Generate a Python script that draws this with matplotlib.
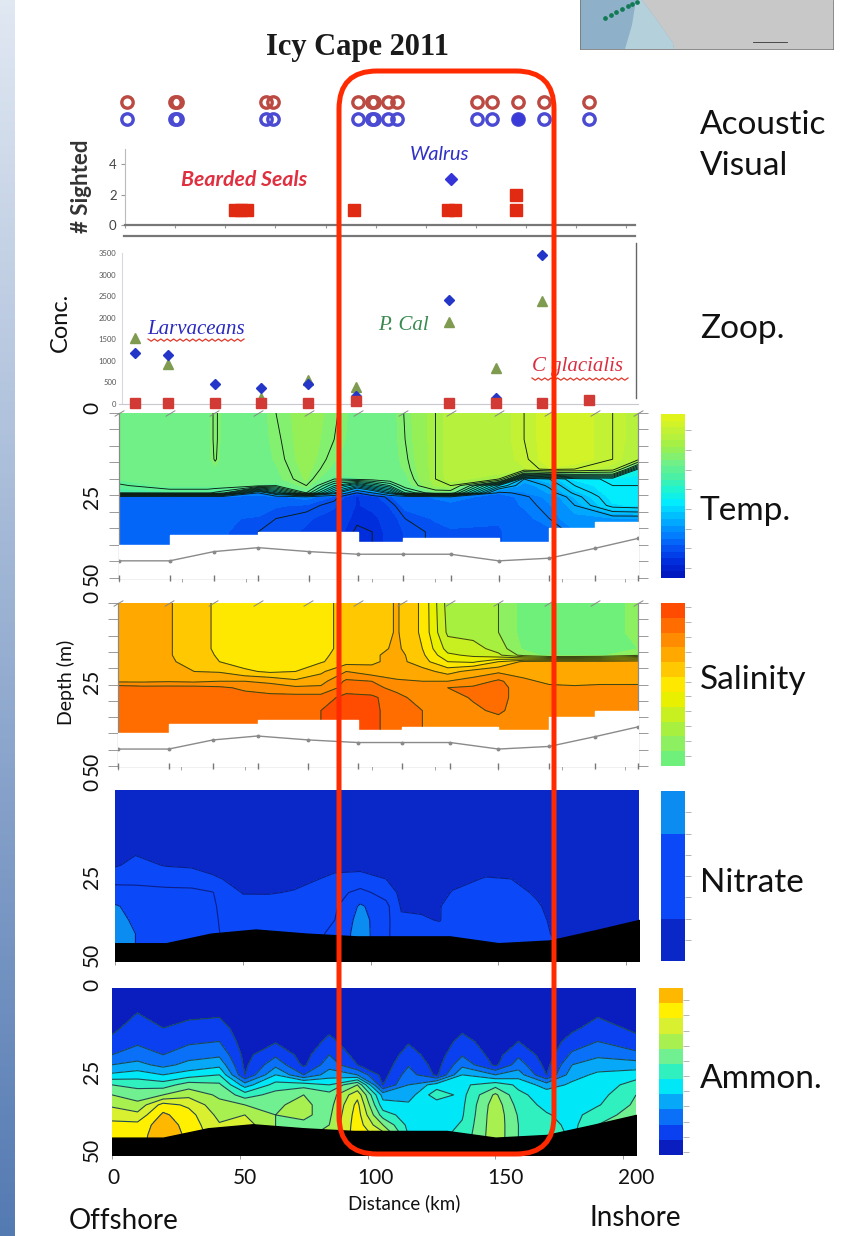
import numpy as np
import matplotlib
matplotlib.use("Agg")
import matplotlib.pyplot as plt
from matplotlib.colors import ListedColormap, LinearSegmentedColormap
from matplotlib.patches import FancyBboxPatch, Polygon, Rectangle

W, H = 844, 1236

# ---------- sightings ----------
acoustic_km = [3.2, 22.1, 22.9, 58.1, 60.8, 94.4, 99.9, 100.7, 106.2, 109.8, 141.4, 147.3, 157.6, 167.9, 185.6]
visual_km = acoustic_km
visual_filled_km = [157.6]
seal_km = [45.8, 48.2, 50.6, 93.0, 130.0, 132.7, 156.7, 156.7]
seal_count = [1, 1, 1, 1, 1, 1, 1, 2]
walrus_km = [131.0]
walrus_count = [3]

# ---------- zooplankton ----------
zoop_km = [6.3, 19.4, 37.9, 56.0, 74.6, 93.6, 130.3, 148.9, 167.0, 185.6]
larvaceans = [1190, 1130, 460, 370, 470, 180, 2420, 130, 3460, np.nan]
p_cal = [1540, 920, np.nan, 130, 560, 400, 1900, 830, 2390, np.nan]
c_glacialis = [20, 15, 25, 15, 25, 80, 15, 20, 30, 90]

# ---------- bottom ----------
station_km = [0, 20, 37.5, 55, 75, 94.5, 112, 131, 150, 170, 188, 205]
bottom_depth = [44.8, 44.8, 42, 40.8, 42, 42.8, 42.8, 42.8, 44.8, 44, 41, 38]
step_km = [0, 20, 55, 94.5, 112, 150, 170, 188, 205]
step_depth = [40, 37, 36, 39, 38, 39, 35, 33, 33]

# ---------- temperature (by column) ----------
temp_km = [0, 20, 35, 38, 41, 55, 62, 74, 85, 94, 100, 107, 113, 125, 131, 150, 160, 170, 180, 195, 205]
temp_depth = [0, 8, 14, 17, 20, 22, 24.2, 25.4, 28, 32, 36, 50]
temp_cols = [
    [8.5, 8.5, 8.5, 8.5, 8.3, 7.9, 7.5, 2.6, 2.5, 2.5, 2.5, 2.5],
    [8.5, 8.5, 8.5, 8.5, 8.5, 8.4, 7.6, 2.5, 2.4, 2.5, 2.5, 2.5],
    [8.5, 8.5, 8.5, 8.5, 8.5, 8.4, 7.6, 2.6, 2.5, 2.5, 2.5, 2.5],
    [9.2, 9.2, 9.1, 8.6, 8.5, 8.4, 7.4, 2.6, 2.5, 2.5, 2.5, 2.5],
    [8.5, 8.5, 8.5, 8.5, 8.5, 8.4, 7.2, 2.6, 2.5, 2.3, 2.3, 2.3],
    [8.5, 8.5, 8.5, 8.5, 8.5, 8.2, 3.0, 2.6, 2.5, 2.2, 2.0, 2.0],
    [9.0, 8.9, 8.8, 8.7, 8.6, 8.0, 5.0, 2.6, 2.3, 2.0, 1.9, 1.9],
    [9.5, 9.5, 9.5, 9.4, 9.3, 9.0, 8.0, 3.0, 2.2, 1.8, 1.7, 1.7],
    [9.1, 9.0, 8.8, 8.6, 8.0, 6.5, 4.5, 2.2, 1.8, 1.6, 1.5, 1.5],
    [8.5, 8.5, 8.5, 8.5, 8.2, 5.0, 2.0, 1.2, 1.2, 1.1, 0.9, 0.9],
    [8.5, 8.5, 8.5, 8.5, 8.3, 6.0, 3.0, 1.5, 1.4, 1.1, 1.0, 1.0],
    [8.5, 8.5, 8.5, 8.5, 8.5, 7.0, 4.5, 2.2, 1.8, 1.5, 1.4, 1.4],
    [9.05, 9.0, 8.9, 8.8, 8.6, 8.4, 7.0, 2.5, 2.4, 2.0, 1.8, 1.8],
    [10.0, 10.0, 10.0, 10.0, 10.0, 9.8, 8.5, 2.8, 2.6, 2.3, 2.1, 2.1],
    [10.5, 10.5, 10.5, 10.5, 10.4, 10.0, 8.5, 3.0, 2.6, 2.4, 2.2, 2.2],
    [10.5, 10.5, 10.5, 10.5, 10.0, 5.0, 2.8, 2.5, 2.5, 2.3, 2.2, 2.2],
    [11.0, 11.0, 10.9, 10.7, 4.0, 3.5, 3.2, 2.9, 2.8, 2.6, 2.5, 2.5],
    [11.5, 11.5, 11.5, 11.2, 4.5, 4.1, 3.8, 3.4, 3.2, 3.0, 2.6, 2.6],
    [11.5, 11.5, 11.5, 11.0, 5.3, 5.0, 4.6, 4.3, 4.0, 3.6, 3.2, 3.2],
    [11.0, 11.0, 11.0, 10.5, 5.6, 5.5, 5.5, 5.4, 5.2, 3.7, 3.5, 3.5],
    [10.5, 10.5, 10.3, 6.0, 5.6, 5.5, 5.5, 5.5, 5.3, 3.7, 3.5, 3.5],
]

# ---------- salinity (by row) ----------
sal_km = [0, 10, 20, 30, 40, 50, 60, 70, 80, 90, 100, 110, 120, 130, 140, 150, 160, 170, 180, 190, 205]
sal_depth = [0, 9, 14, 16, 18, 21, 24, 26, 29, 33, 38, 50]
sal_rows = [
    [30.8, 30.8, 30.55, 30.2, 29.9, 29.7, 29.7, 29.7, 29.8, 30.2, 30.2, 30.55, 29.9, 28.3, 28.2, 28.0, 27.3, 27.2, 27.2, 27.3, 27.6],
    [30.8, 30.8, 30.55, 30.2, 29.9, 29.7, 29.7, 29.7, 29.8, 30.2, 30.2, 30.55, 29.9, 28.4, 28.3, 28.0, 27.3, 27.2, 27.2, 27.3, 27.6],
    [30.8, 30.8, 30.55, 30.2, 29.9, 29.7, 29.7, 29.7, 29.8, 30.2, 30.3, 30.6, 30.0, 28.8, 28.7, 28.3, 27.4, 27.2, 27.2, 27.3, 27.5],
    [30.8, 30.8, 30.55, 30.2, 29.95, 29.7, 29.7, 29.75, 29.9, 30.2, 30.4, 30.7, 30.1, 29.1, 28.9, 28.6, 27.8, 27.3, 27.3, 27.4, 27.9],
    [30.8, 30.8, 30.6, 30.25, 30.0, 29.75, 29.7, 29.8, 29.95, 30.3, 30.4, 30.7, 30.2, 29.5, 29.4, 30.0, 30.6, 30.7, 30.7, 30.7, 30.8],
    [30.8, 30.8, 30.7, 30.5, 30.45, 30.1, 29.9, 30.0, 30.4, 31.0, 30.7, 30.6, 30.7, 30.3, 30.7, 30.9, 30.8, 30.8, 30.8, 30.8, 30.8],
    [30.9, 30.9, 30.95, 30.9, 31.0, 31.0, 30.9, 30.6, 30.8, 31.6, 31.5, 31.1, 31.0, 31.0, 31.2, 31.6, 31.1, 30.9, 30.8, 30.8, 30.9],
    [31.8, 31.7, 31.7, 31.7, 31.6, 31.4, 31.2, 31.1, 31.1, 31.7, 31.7, 31.3, 31.1, 31.5, 31.6, 31.7, 31.2, 31.1, 31.1, 31.2, 31.1],
    [31.8, 31.8, 31.8, 31.8, 31.8, 31.7, 31.7, 31.7, 31.7, 32.2, 32.1, 31.7, 31.2, 31.3, 31.55, 31.7, 31.2, 31.2, 31.2, 31.2, 31.2],
    [31.8, 31.8, 31.8, 31.8, 31.8, 31.7, 31.7, 31.7, 32.0, 32.3, 32.2, 31.6, 31.5, 31.2, 31.4, 31.6, 31.2, 31.2, 31.2, 31.2, 31.2],
    [31.8, 31.8, 31.8, 31.8, 31.8, 31.7, 31.7, 31.7, 32.0, 32.2, 32.2, 31.6, 31.5, 31.2, 31.2, 31.2, 31.2, 31.2, 31.2, 31.2, 31.2],
    [31.8, 31.8, 31.8, 31.8, 31.8, 31.7, 31.7, 31.7, 32.0, 32.2, 32.2, 31.6, 31.5, 31.2, 31.2, 31.2, 31.2, 31.2, 31.2, 31.2, 31.2],
]

# ---------- nitrate (by column) ----------
nit_km = [0, 8, 20, 30, 38, 50, 60, 70, 80, 86, 96, 106, 112, 120, 127, 132, 145, 155, 165, 172, 188, 205]
nit_depth = [0, 18, 22, 26, 30, 34, 38, 42, 46, 50]
nit_cols = [
    [0.5, 1.2, 1.8, 3.4, 4.8, 6.2, 6.6, 7.0, 7.0, 7.0],
    [0.5, 1.8, 2.5, 3.5, 4.6, 5.4, 5.7, 6.0, 6.0, 6.0],
    [0.5, 1.4, 1.9, 3.2, 4.5, 4.6, 4.7, 4.8, 4.8, 4.8],
    [0.5, 1.2, 1.7, 3.2, 4.4, 4.6, 4.8, 5.0, 5.0, 5.0],
    [0.5, 1.0, 1.4, 2.3, 4.1, 4.2, 4.2, 4.2, 4.2, 4.2],
    [0.5, 0.7, 1.0, 1.4, 1.9, 2.8, 3.2, 3.4, 3.6, 3.6],
    [0.5, 0.7, 1.0, 1.4, 1.9, 2.7, 3.2, 3.4, 3.4, 3.4],
    [0.5, 0.8, 1.1, 1.6, 2.1, 2.8, 3.2, 3.4, 3.4, 3.4],
    [0.5, 0.9, 1.3, 2.0, 2.8, 3.3, 3.6, 3.8, 3.8, 3.8],
    [0.5, 1.0, 1.5, 2.4, 3.3, 3.7, 4.0, 4.4, 4.4, 4.4],
    [0.5, 1.0, 1.5, 2.6, 4.6, 6.3, 6.8, 7.0, 7.0, 7.0],
    [0.5, 0.8, 1.2, 2.0, 3.2, 4.6, 4.6, 4.4, 4.4, 4.4],
    [0.5, 0.6, 0.8, 1.1, 1.5, 1.8, 2.3, 2.8, 3.0, 3.0],
    [0.5, 0.6, 0.8, 1.0, 1.3, 1.7, 2.2, 2.8, 3.0, 3.0],
    [0.5, 0.6, 0.8, 1.1, 1.5, 1.9, 1.9, 2.8, 3.0, 3.0],
    [0.5, 0.7, 1.0, 1.5, 2.1, 2.8, 3.0, 3.2, 3.2, 3.2],
    [0.5, 0.9, 1.4, 2.1, 3.0, 3.2, 3.4, 3.4, 3.4, 3.4],
    [0.5, 0.9, 1.4, 2.0, 2.8, 3.2, 3.4, 3.4, 3.4, 3.4],
    [0.5, 0.6, 0.9, 1.3, 1.7, 2.3, 2.8, 3.0, 3.0, 3.0],
    [0.5, 0.5, 0.6, 0.8, 1.0, 1.2, 1.4, 1.7, 2.2, 2.2],
    [0.5, 0.5, 0.5, 0.6, 0.7, 0.8, 0.9, 1.0, 1.0, 1.0],
    [0.5, 0.5, 0.5, 0.5, 0.6, 0.6, 0.7, 0.7, 0.7, 0.7],
]

# ---------- ammonium (by column) ----------
amm_km = [0, 10, 20, 30, 42, 52, 64, 75, 85, 96, 106, 116, 127, 137, 150, 159, 170, 180, 190, 205]
amm_depth = [0, 8, 12, 16, 20, 23, 26, 29, 32, 35, 38, 41, 44, 50]
amm_cols = [
    [0.3, 0.5, 0.8, 1.2, 2.0, 3.0, 4.2, 6.0, 7.0, 7.8, 8.7, 9.2, 9.5, 9.8],
    [0.3, 1.05, 1.4, 1.8, 2.5, 3.3, 4.5, 5.7, 6.5, 7.3, 8.3, 9.3, 9.6, 9.8],
    [0.3, 0.6, 1.0, 1.5, 2.0, 2.7, 4.0, 5.5, 7.0, 9.4, 10.2, 10.6, 10.6, 10.6],
    [0.3, 0.8, 1.3, 1.8, 2.6, 3.3, 4.5, 6.5, 7.7, 8.8, 9.4, 9.6, 9.8, 9.8],
    [0.3, 0.9, 1.4, 2.0, 2.8, 3.7, 5.0, 6.2, 6.8, 7.3, 7.7, 8.1, 8.3, 8.5],
    [0.2, 0.3, 0.4, 0.5, 0.7, 0.8, 1.0, 3.5, 5.5, 7.0, 8.0, 8.5, 8.7, 8.7],
    [0.2, 0.4, 0.6, 0.9, 1.8, 2.7, 4.0, 5.4, 6.4, 6.9, 7.0, 7.0, 7.0, 7.0],
    [0.2, 0.3, 0.4, 0.5, 0.6, 0.8, 2.0, 5.6, 7.0, 7.2, 7.1, 6.9, 6.8, 6.8],
    [0.2, 0.4, 0.8, 1.2, 2.0, 2.6, 3.5, 5.0, 6.4, 6.6, 6.8, 7.0, 7.3, 7.3],
    [0.2, 0.3, 0.4, 0.5, 0.6, 1.0, 3.0, 7.0, 8.7, 9.3, 9.5, 9.6, 9.6, 9.6],
    [0.2, 0.3, 0.3, 0.3, 0.3, 0.4, 0.6, 1.0, 3.6, 4.4, 5.5, 7.0, 8.5, 9.0],
    [0.2, 0.4, 0.6, 0.9, 1.4, 1.9, 2.5, 3.0, 3.5, 4.2, 4.5, 4.7, 4.95, 5.0],
    [0.2, 0.3, 0.3, 0.4, 0.5, 0.6, 0.8, 4.5, 5.6, 4.4, 4.4, 4.5, 4.7, 4.8],
    [0.2, 0.5, 0.8, 1.3, 1.9, 2.7, 4.0, 4.8, 4.7, 4.8, 4.9, 5.1, 5.3, 5.5],
    [0.2, 0.3, 0.4, 0.5, 0.6, 0.8, 3.0, 5.6, 7.2, 7.6, 7.7, 7.7, 7.7, 7.7],
    [0.2, 0.4, 0.7, 1.0, 1.8, 2.5, 3.5, 4.8, 5.2, 5.6, 5.9, 6.0, 6.0, 6.0],
    [0.2, 0.3, 0.3, 0.4, 0.5, 0.7, 1.0, 3.5, 4.6, 4.7, 5.1, 5.4, 5.6, 5.7],
    [0.2, 0.6, 0.8, 1.4, 2.2, 3.0, 3.6, 4.2, 4.5, 4.5, 4.6, 4.7, 4.8, 4.8],
    [0.2, 0.9, 1.4, 2.0, 2.8, 3.5, 4.2, 4.3, 4.6, 4.9, 5.6, 6.0, 6.0, 6.0],
    [0.3, 0.5, 0.8, 1.3, 2.3, 3.5, 4.5, 5.5, 6.0, 6.2, 6.4, 6.5, 6.5, 6.5],
]

# ---------- colour bands ----------
temp_levels = [-0.25 + 0.5 * i for i in range(26)]
temp_line_levels = [1, 2, 3, 4, 4.5, 5, 5.5, 6, 6.5, 7, 7.5, 8, 9, 10, 11]
temp_anchor_colors = ['#0018c0', '#0030e0', '#0558f5', '#0088ff', '#00b8ff', '#00ecff',
                      '#20f4d0', '#50f0a0', '#78f080', '#a0f048', '#c0f238', '#e0f41a']
sal_levels = [27 + 0.5 * i for i in range(12)]
sal_colors = ['#6ef07a', '#8cf060', '#a8f040', '#c8f020', '#e8f000', '#ffe800',
              '#ffc800', '#ffa800', '#ff8c00', '#ff6c00', '#ff4c00']
nit_levels = [0, 2, 4, 6, 8]
nit_colors = ['#0a28c8', '#0a48f8', '#0a48f8', '#0a8cf0']
amm_levels = list(range(0, 12))
amm_colors = ['#0a1ec0', '#0a40f0', '#0a70f8', '#08a8f8', '#00e8f8', '#30f0c0',
              '#70f090', '#a8f050', '#d8f030', '#fff000', '#ffb800']

# ---------- text labels ----------
side_labels = [("Acoustic", 125), ("Visual", 166), ("Zoop.", 329), ("Temp.", 511),
               ("Salinity", 680), ("Nitrate", 883), ("Ammon.", 1079)]
distance_ticks = [("0", 113), ("50", 245), ("100", 375), ("150", 505), ("200", 636)]
depth_tick_rows = [("0", 408), ("25", 497), ("50", 574), ("0", 597), ("25", 682), ("50", 764),
                   ("0", 785), ("25", 877), ("50", 955), ("0", 985), ("25", 1072), ("50", 1150)]

plt.rcParams['font.family'] = ['Lato', 'DejaVu Sans']
fig = plt.figure(figsize=(W / 100, H / 100), dpi=100, facecolor='white')


def px_axes(l, t, r, b, **kw):
    return fig.add_axes([l / W, 1 - b / H, (r - l) / W, (b - t) / H], **kw)


# background layer: strip and map
bg = px_axes(0, 0, W, H, zorder=0)
bg.imshow(np.linspace(0, 1, 256).reshape(-1, 1), extent=(0, 15, H, 0), aspect='auto',
          cmap=ListedColormap(np.linspace([0.88, 0.91, 0.95], [0.33, 0.48, 0.70], 256)))
bg.set_xlim(0, W)
bg.set_ylim(H, 0)
bg.axis('off')
bg.add_patch(Rectangle((580, 0), 253, 49, fc='#8eb0c8', ec='none'))
bg.add_patch(Polygon([(636, 0), (642, 0), (657, 20), (673, 43), (674, 49), (625, 49), (632, 25)], fc='#b4d0da', ec='none'))
bg.add_patch(Polygon([(642, 0), (657, 20), (673, 43), (674, 49), (833, 49), (833, 0)], fc='#c8c8c8', ec='none'))
bg.plot([605, 611, 616, 622, 628, 632, 637], [18, 15, 12, 9, 6, 4, 2], ls='none', marker='o', ms=2.4, color='#117a55')
bg.plot([753, 787], [42, 42], color='#333', lw=0.6)
bg.plot([580, 833], [49, 49], color='#777', lw=0.6)
bg.plot([580, 580], [0, 49], color='#777', lw=0.6)
bg.plot([833, 833], [0, 49], color='#777', lw=0.6)


def section(ax, km, depth, z, levels, colors, line_levels, line_color, lw=0.8):
    z = np.asarray(z)
    cf = ax.contourf(km, depth, z, levels=levels, colors=colors, extend='neither')
    ax.contour(km, depth, z, levels=line_levels, colors=line_color, linewidths=lw)
    ax.set_xlim(0, 205)
    ax.set_ylim(50, 0)
    return cf


def bar(cf, l, t, r, b, ticks):
    cax = px_axes(l, t, r, b)
    cb = fig.colorbar(cf, cax=cax, ticks=ticks, spacing='proportional')
    cb.outline.set_visible(False)
    cax.tick_params(axis='y', right=True, length=4, width=0.6, color='#aaa', labelright=False)
    cax.minorticks_off()


slash = [(-1, -0.6), (1, 0.6)]
temp_map = LinearSegmentedColormap.from_list('temp', temp_anchor_colors)
temp_colors = [temp_map(i / 24) for i in range(25)]

# ---- temperature
ax_t = px_axes(119, 413, 638, 578)
cf_t = section(ax_t, temp_km, temp_depth, np.array(temp_cols).T, temp_levels, temp_colors,
               temp_line_levels, '#0c1c14', lw=0.65)
bar(cf_t, 661, 414, 685, 578, np.arange(0.5, 11.6, 1.5))

# ---- salinity
ax_s = px_axes(118, 603, 638, 766)
cf_s = section(ax_s, sal_km, sal_depth, np.array(sal_rows), sal_levels, sal_colors,
               [28, 28.5, 29, 29.5, 30, 30.5, 31, 31.5, 32], '#3f4a12', lw=0.75)
bar(cf_s, 661, 603, 685, 766, np.arange(27.35, 32.4, 0.5))

for ax in (ax_t, ax_s):
    ax.fill_between(step_km, step_depth, 51, step='post', color='white', zorder=3)
    ax.plot(station_km, bottom_depth, color='#8a8a8a', lw=1, marker='o', ms=1.8, zorder=4)
    ax.plot(station_km, [50] * len(station_km), ls='none', marker='|', ms=4, color='#777', zorder=4, clip_on=False)
    ax.plot(station_km, [0] * len(station_km), ls='none', marker=slash, ms=7, mew=0.7, color='#888', zorder=4, clip_on=False)
    ax.spines['top'].set_visible(False)
    for s in ('left', 'right', 'bottom'):
        ax.spines[s].set_color('#8a8a8a')
        ax.spines[s].set_linewidth(0.9)
    ax.set_yticks(np.arange(0, 51, 5))
    ax.set_xticks(np.arange(0, 206, 25))
    ax.tick_params(axis='y', left=True, right=True, length=7, width=0.7, color='#999', labelleft=False)
    ax.tick_params(axis='x', length=3, width=0.6, color='#999', labelbottom=False)

# ---- nitrate
ax_n = px_axes(115, 790, 639, 961)
cf_n = section(ax_n, nit_km, nit_depth, np.array(nit_cols).T, nit_levels, nit_colors, [2, 4, 6], '#0b1f8a', lw=0.8)
bar(cf_n, 661, 791, 685, 961, [1, 2, 3, 4, 5, 6, 7])

# ---- ammonium
ax_a = px_axes(112, 988, 636, 1155)
cf_a = section(ax_a, amm_km, amm_depth, np.array(amm_cols).T, amm_levels, amm_colors, amm_levels[1:-1], '#1d4a55', lw=0.8)
bar(cf_a, 659, 988, 683, 1155, np.arange(0.2, 10.9, 1))

for ax in (ax_n, ax_a):
    ax.fill_between(station_km, bottom_depth, 51, color='black', zorder=3)
    for s in ax.spines.values():
        s.set_visible(False)
    ax.set_xticks([0, 50, 100, 150, 200])
    ax.set_yticks([])
    ax.tick_params(axis='x', length=3, width=0.6, color='#888', labelbottom=False)

# ---- zooplankton
ax_z = px_axes(119, 253, 638, 404)
ax_z.patch.set_alpha(0)
ax_z.set_xlim(0, 205)
ax_z.set_ylim(0, 3500)
ax_z.plot(zoop_km, p_cal, ls='none', marker='^', ms=6.5, color='#7f9b50', clip_on=False, zorder=3)
ax_z.plot(zoop_km, larvaceans, ls='none', marker='D', ms=5, color='#2436c8', clip_on=False, zorder=4)
ax_z.plot(zoop_km, c_glacialis, ls='none', marker='s', ms=7, color='#d23a36', clip_on=False, zorder=5)
for s in ('top', 'right'):
    ax_z.spines[s].set_visible(False)
ax_z.spines['left'].set_position(('data', 1.2))
ax_z.spines['left'].set_color('#d8d8e0')
ax_z.spines['bottom'].set_color('#c8c8d0')
ax_z.set_yticks(range(0, 3501, 500))
ax_z.set_xticks([])
ax_z.tick_params(axis='y', length=0, labelsize=5.5, labelcolor='#555', pad=4)

# ---- sightings
ax_v = px_axes(119, 149, 638, 225)
ax_v.patch.set_alpha(0)
ax_v.set_xlim(0, 205)
ax_v.set_ylim(0, 5)
ax_v.plot(seal_km, seal_count, ls='none', marker='s', ms=9, color='#e02a12', clip_on=False)
ax_v.plot(walrus_km, walrus_count, ls='none', marker='D', ms=6.5, color='#3434d8', clip_on=False)
for s in ('top', 'right'):
    ax_v.spines[s].set_visible(False)
ax_v.spines['left'].set_position(('data', 2.4))
ax_v.spines['left'].set_color('#bbb')
ax_v.spines['bottom'].set_color('#777')
ax_v.spines['bottom'].set_linewidth(1.6)
ax_v.spines['bottom'].set_bounds(2.4, 204)
ax_v.set_yticks([0, 2, 4])
ax_v.set_xticks(np.arange(2.4, 205, 19.8))
ax_v.tick_params(axis='y', length=3, color='#999', labelsize=9.5, labelcolor='#444', pad=3)
ax_v.tick_params(axis='x', length=2, color='#999', labelbottom=False)

# ---- rings
ax_r = px_axes(119, 95, 638, 126)
ax_r.patch.set_alpha(0)
ax_r.set_xlim(0, 205)
ax_r.set_ylim(2, 0)
ax_r.axis('off')
ax_r.plot(acoustic_km, [0.45] * len(acoustic_km), ls='none', marker='o', ms=8.2, mfc='none', mew=2.4, color='#bb4a42', clip_on=False)
ax_r.plot(visual_km, [1.55] * len(visual_km), ls='none', marker='o', ms=8.2, mfc='none', mew=2.4, color='#4a4ad2', clip_on=False)
ax_r.plot(visual_filled_km, [1.55], ls='none', marker='o', ms=8.2, color='#3a3ad8', clip_on=False)

# ---- overlay in pixels
ov = px_axes(0, 0, W, H, zorder=20)
ov.patch.set_alpha(0)
ov.set_xlim(0, W)
ov.set_ylim(H, 0)
ov.axis('off')
ov.text(357, 47, "Icy Cape 2011", family='Liberation Serif', weight='bold', fontsize=22, ha='center', va='center', color='#1a1a1a')
for s, y in side_labels:
    ov.text(700, y, s, fontsize=24, ha='left', va='center', color='#111')
for s, x in distance_ticks:
    ov.text(x, 1178, s, fontsize=15, ha='center', va='center', color='#111')
for s, y in depth_tick_rows:
    ov.text(92, y, s, fontsize=15, rotation=90, ha='center', va='center', color='#111')
ov.text(404, 1203, "Distance (km)", fontsize=13.5, ha='center', va='center', color='#111')
ov.text(124, 1221, "Offshore", fontsize=20, ha='center', va='center', color='#111')
ov.text(635, 1218, "Inshore", fontsize=20, ha='center', va='center', color='#111')
ov.text(66, 682, "Depth (m)", fontsize=14, rotation=90, ha='center', va='center', color='#111')
ov.text(60, 322, "Conc.", fontsize=17, rotation=90, ha='center', va='center', color='#111')
ov.text(81, 186, "# Sighted", fontsize=16, weight='bold', rotation=90, ha='center', va='center', color='#333')
ov.text(244, 180, "Bearded Seals", fontsize=15.3, style='italic', weight='bold', ha='center', va='center', color='#e03040')
ov.text(439, 155, "Walrus", fontsize=14.5, style='italic', ha='center', va='center', color='#3030c8')
ov.text(196, 330, "Larvaceans", family='Liberation Serif', fontsize=15, style='italic', ha='center', va='center', color='#2a2ac0')
ov.text(403, 325, "P. Cal", family='Liberation Serif', fontsize=15, style='italic', ha='center', va='center', color='#3a8a50')
ov.text(577, 367, "C glacialis", family='Liberation Serif', fontsize=15, style='italic', ha='center', va='center', color='#d83040')
for x0, x1, y0 in [(148, 246, 339), (532, 631, 378)]:
    xs = np.arange(x0, x1, 3.2)
    ov.plot(xs, y0 + 2.2 * (np.arange(len(xs)) % 2), color='#e03a2a', lw=0.9)
ov.plot([636, 636], [243, 398], color='#666', lw=1)
ov.plot([124, 635], [236, 236], color='#777', lw=1.6)
ov.add_patch(FancyBboxPatch((339 + 38, 71 + 38), 215 - 76, 1083 - 76, boxstyle='round,pad=38,rounding_size=38',
                            fc='none', ec='#ff2a00', lw=3.6, zorder=30, mutation_aspect=1))

fig.savefig('out.png', dpi=100)
